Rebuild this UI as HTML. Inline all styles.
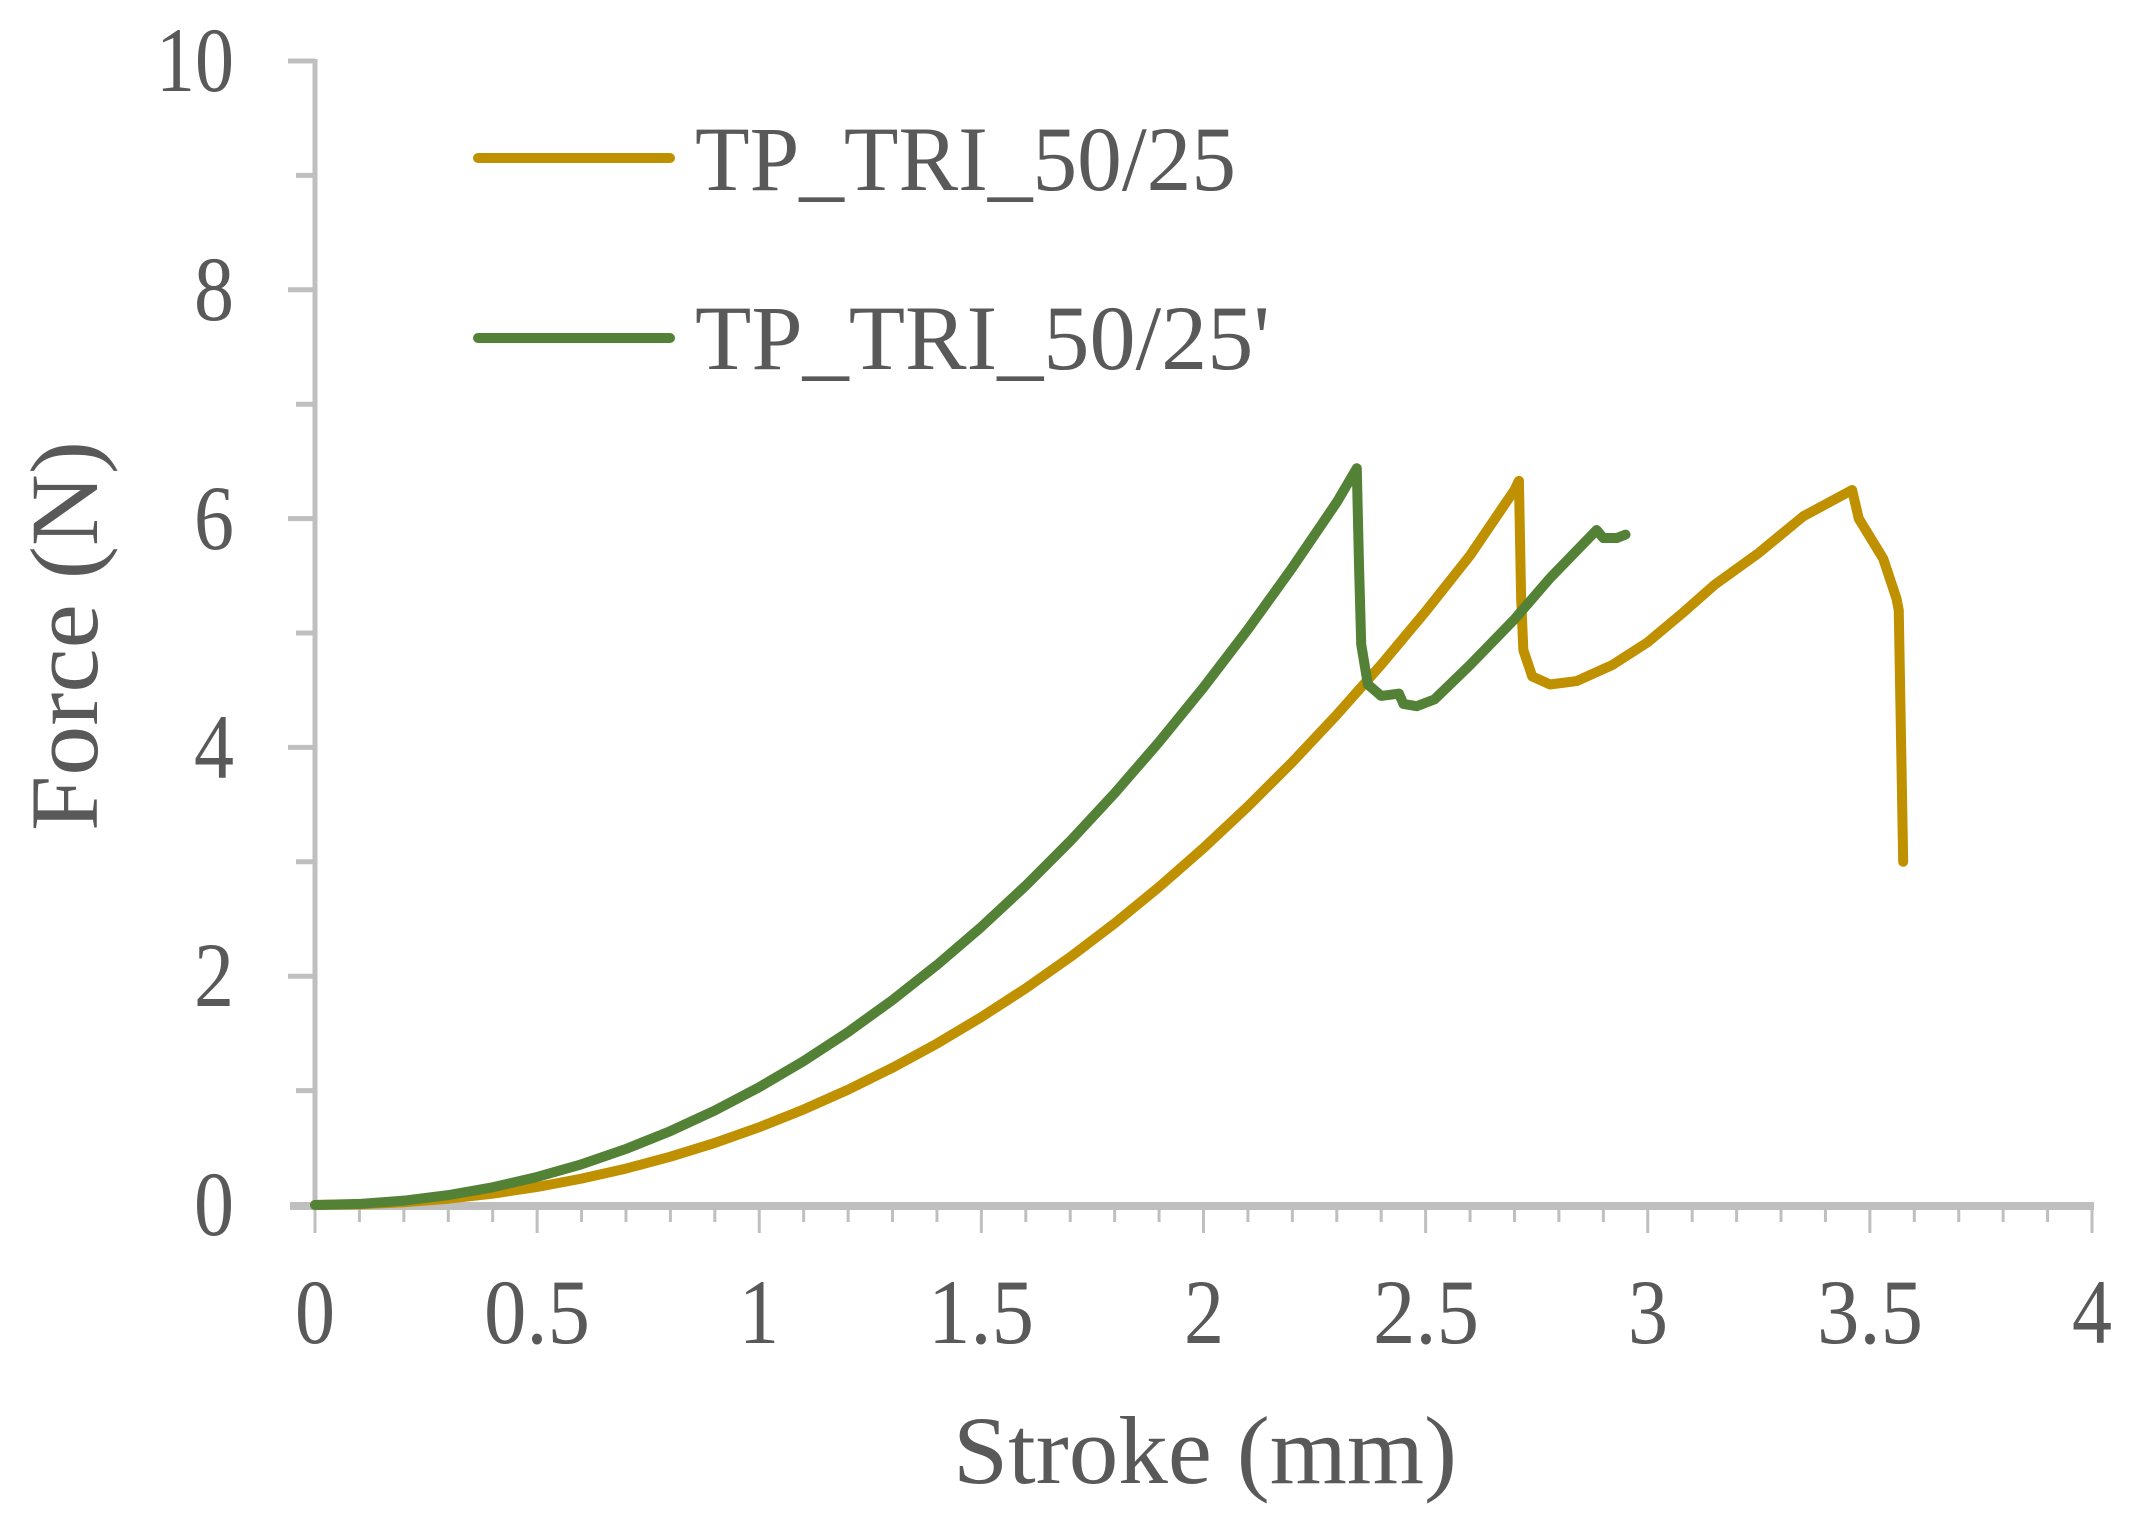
<!DOCTYPE html>
<html><head><meta charset="utf-8"><style>
html,body{margin:0;padding:0;background:#fff}
svg{display:block}
text{font-family:"Liberation Serif",serif;fill:#595959}
</style></head><body>
<svg width="2129" height="1522" viewBox="0 0 2129 1522" xmlns="http://www.w3.org/2000/svg">
<rect width="2129" height="1522" fill="#fff"/>
<!-- axes -->
<line x1="315" y1="59" x2="315" y2="1209" stroke="#bfbfbf" stroke-width="5"/>
<line x1="290" y1="1206" x2="2094" y2="1206" stroke="#bfbfbf" stroke-width="8"/>
<path d="M288 61H315 M296 175.4H315 M288 289.8H315 M296 404.2H315 M288 518.6H315 M296 633H315 M288 747.4H315 M296 861.8H315 M288 976.2H315 M296 1090.6H315" stroke="#bfbfbf" stroke-width="5"/>
<path d="M315 1205 v28 m44.425 -28 v17 m44.425 -17 v17 m44.425 -17 v17 m44.425 -17 v17 m44.425 -17 v28 m44.425 -28 v17 m44.425 -17 v17 m44.425 -17 v17 m44.425 -17 v17 m44.425 -17 v28 m44.425 -28 v17 m44.425 -17 v17 m44.425 -17 v17 m44.425 -17 v17 m44.425 -17 v28 m44.425 -28 v17 m44.425 -17 v17 m44.425 -17 v17 m44.425 -17 v17 m44.425 -17 v28 m44.425 -28 v17 m44.425 -17 v17 m44.425 -17 v17 m44.425 -17 v17 m44.425 -17 v28 m44.425 -28 v17 m44.425 -17 v17 m44.425 -17 v17 m44.425 -17 v17 m44.425 -17 v28 m44.425 -28 v17 m44.425 -17 v17 m44.425 -17 v17 m44.425 -17 v17 m44.425 -17 v28 m44.425 -28 v17 m44.425 -17 v17 m44.425 -17 v17 m44.425 -17 v17 m44.425 -17 v28" stroke="#bfbfbf" stroke-width="3" fill="none"/>
<!-- y labels -->
<g font-size="92" text-anchor="end">
<text x="234" y="91" textLength="78" lengthAdjust="spacingAndGlyphs">10</text>
<text x="234" y="320" textLength="40" lengthAdjust="spacingAndGlyphs">8</text>
<text x="234" y="549" textLength="40" lengthAdjust="spacingAndGlyphs">6</text>
<text x="234" y="778" textLength="40" lengthAdjust="spacingAndGlyphs">4</text>
<text x="234" y="1006" textLength="40" lengthAdjust="spacingAndGlyphs">2</text>
<text x="234" y="1235" textLength="40" lengthAdjust="spacingAndGlyphs">0</text>
</g>
<!-- x labels -->
<g font-size="92" text-anchor="middle">
<text x="315" y="1343" textLength="40" lengthAdjust="spacingAndGlyphs">0</text>
<text x="537" y="1343" textLength="106" lengthAdjust="spacingAndGlyphs">0.5</text>
<text x="759" y="1343" textLength="40" lengthAdjust="spacingAndGlyphs">1</text>
<text x="981" y="1343" textLength="106" lengthAdjust="spacingAndGlyphs">1.5</text>
<text x="1204" y="1343" textLength="40" lengthAdjust="spacingAndGlyphs">2</text>
<text x="1426" y="1343" textLength="106" lengthAdjust="spacingAndGlyphs">2.5</text>
<text x="1648" y="1343" textLength="40" lengthAdjust="spacingAndGlyphs">3</text>
<text x="1870" y="1343" textLength="106" lengthAdjust="spacingAndGlyphs">3.5</text>
<text x="2092" y="1343" textLength="40" lengthAdjust="spacingAndGlyphs">4</text>
</g>
<!-- titles -->
<text x="1205" y="1483" font-size="96" text-anchor="middle" textLength="504" lengthAdjust="spacingAndGlyphs">Stroke (mm)</text>
<text transform="translate(97,636) rotate(-90)" font-size="96" text-anchor="middle" textLength="390" lengthAdjust="spacingAndGlyphs">Force (N)</text>
<!-- legend -->
<line x1="478" y1="158" x2="670" y2="158" stroke="#BF9000" stroke-width="10" stroke-linecap="round"/>
<line x1="478" y1="338" x2="670" y2="338" stroke="#538135" stroke-width="10" stroke-linecap="round"/>
<text x="695" y="190" font-size="92" textLength="541" lengthAdjust="spacingAndGlyphs">TP_TRI_50/25</text>
<text x="695" y="369" font-size="92" textLength="575" lengthAdjust="spacingAndGlyphs">TP_TRI_50/25'</text>
<!-- series -->
<g transform="matrix(444.25,0,0,-114.4,315,1205)" fill="none" stroke-linejoin="round" stroke-linecap="round">
<polyline vector-effect="non-scaling-stroke" stroke="#BF9000" stroke-width="10" points="0,0 0.1,0.0059 0.2,0.024 0.3,0.0549 0.4,0.0992 0.5,0.1575 0.6,0.2304 0.7,0.3185 0.8,0.4224 0.9,0.5427 1,0.68 1.1,0.8349 1.2,1.008 1.3,1.2 1.4,1.411 1.5,1.643 1.6,1.894 1.7,2.167 1.8,2.462 1.9,2.78 2,3.12 2.1,3.484 2.2,3.872 2.3,4.285 2.4,4.723 2.5,5.188 2.6,5.678 2.7,6.25 2.71,6.33 2.715,5.3 2.72,4.85 2.74,4.62 2.78,4.55 2.84,4.58 2.92,4.72 3.0,4.92 3.08,5.18 3.15,5.42 3.25,5.7 3.35,6.02 3.46,6.25 3.475,6.0 3.53,5.65 3.56,5.3 3.565,5.2 3.575,3.0"/>
<polyline vector-effect="non-scaling-stroke" stroke="#538135" stroke-width="10" points="0,0 0.1,0.0094 0.2,0.038 0.3,0.0863 0.4,0.155 0.5,0.245 0.6,0.356 0.7,0.49 0.8,0.646 0.9,0.826 1,1.03 1.1,1.258 1.2,1.512 1.3,1.792 1.4,2.098 1.5,2.431 1.6,2.792 1.7,3.181 1.8,3.599 1.9,4.047 2,4.524 2.1,5.032 2.2,5.572 2.3,6.143 2.345,6.44 2.35,5.6 2.355,4.9 2.37,4.55 2.4,4.45 2.44,4.47 2.45,4.38 2.48,4.36 2.52,4.42 2.6,4.72 2.7,5.12 2.78,5.48 2.84,5.72 2.885,5.9 2.9,5.83 2.93,5.83 2.95,5.86"/>
</g>
</svg>
</body></html>
